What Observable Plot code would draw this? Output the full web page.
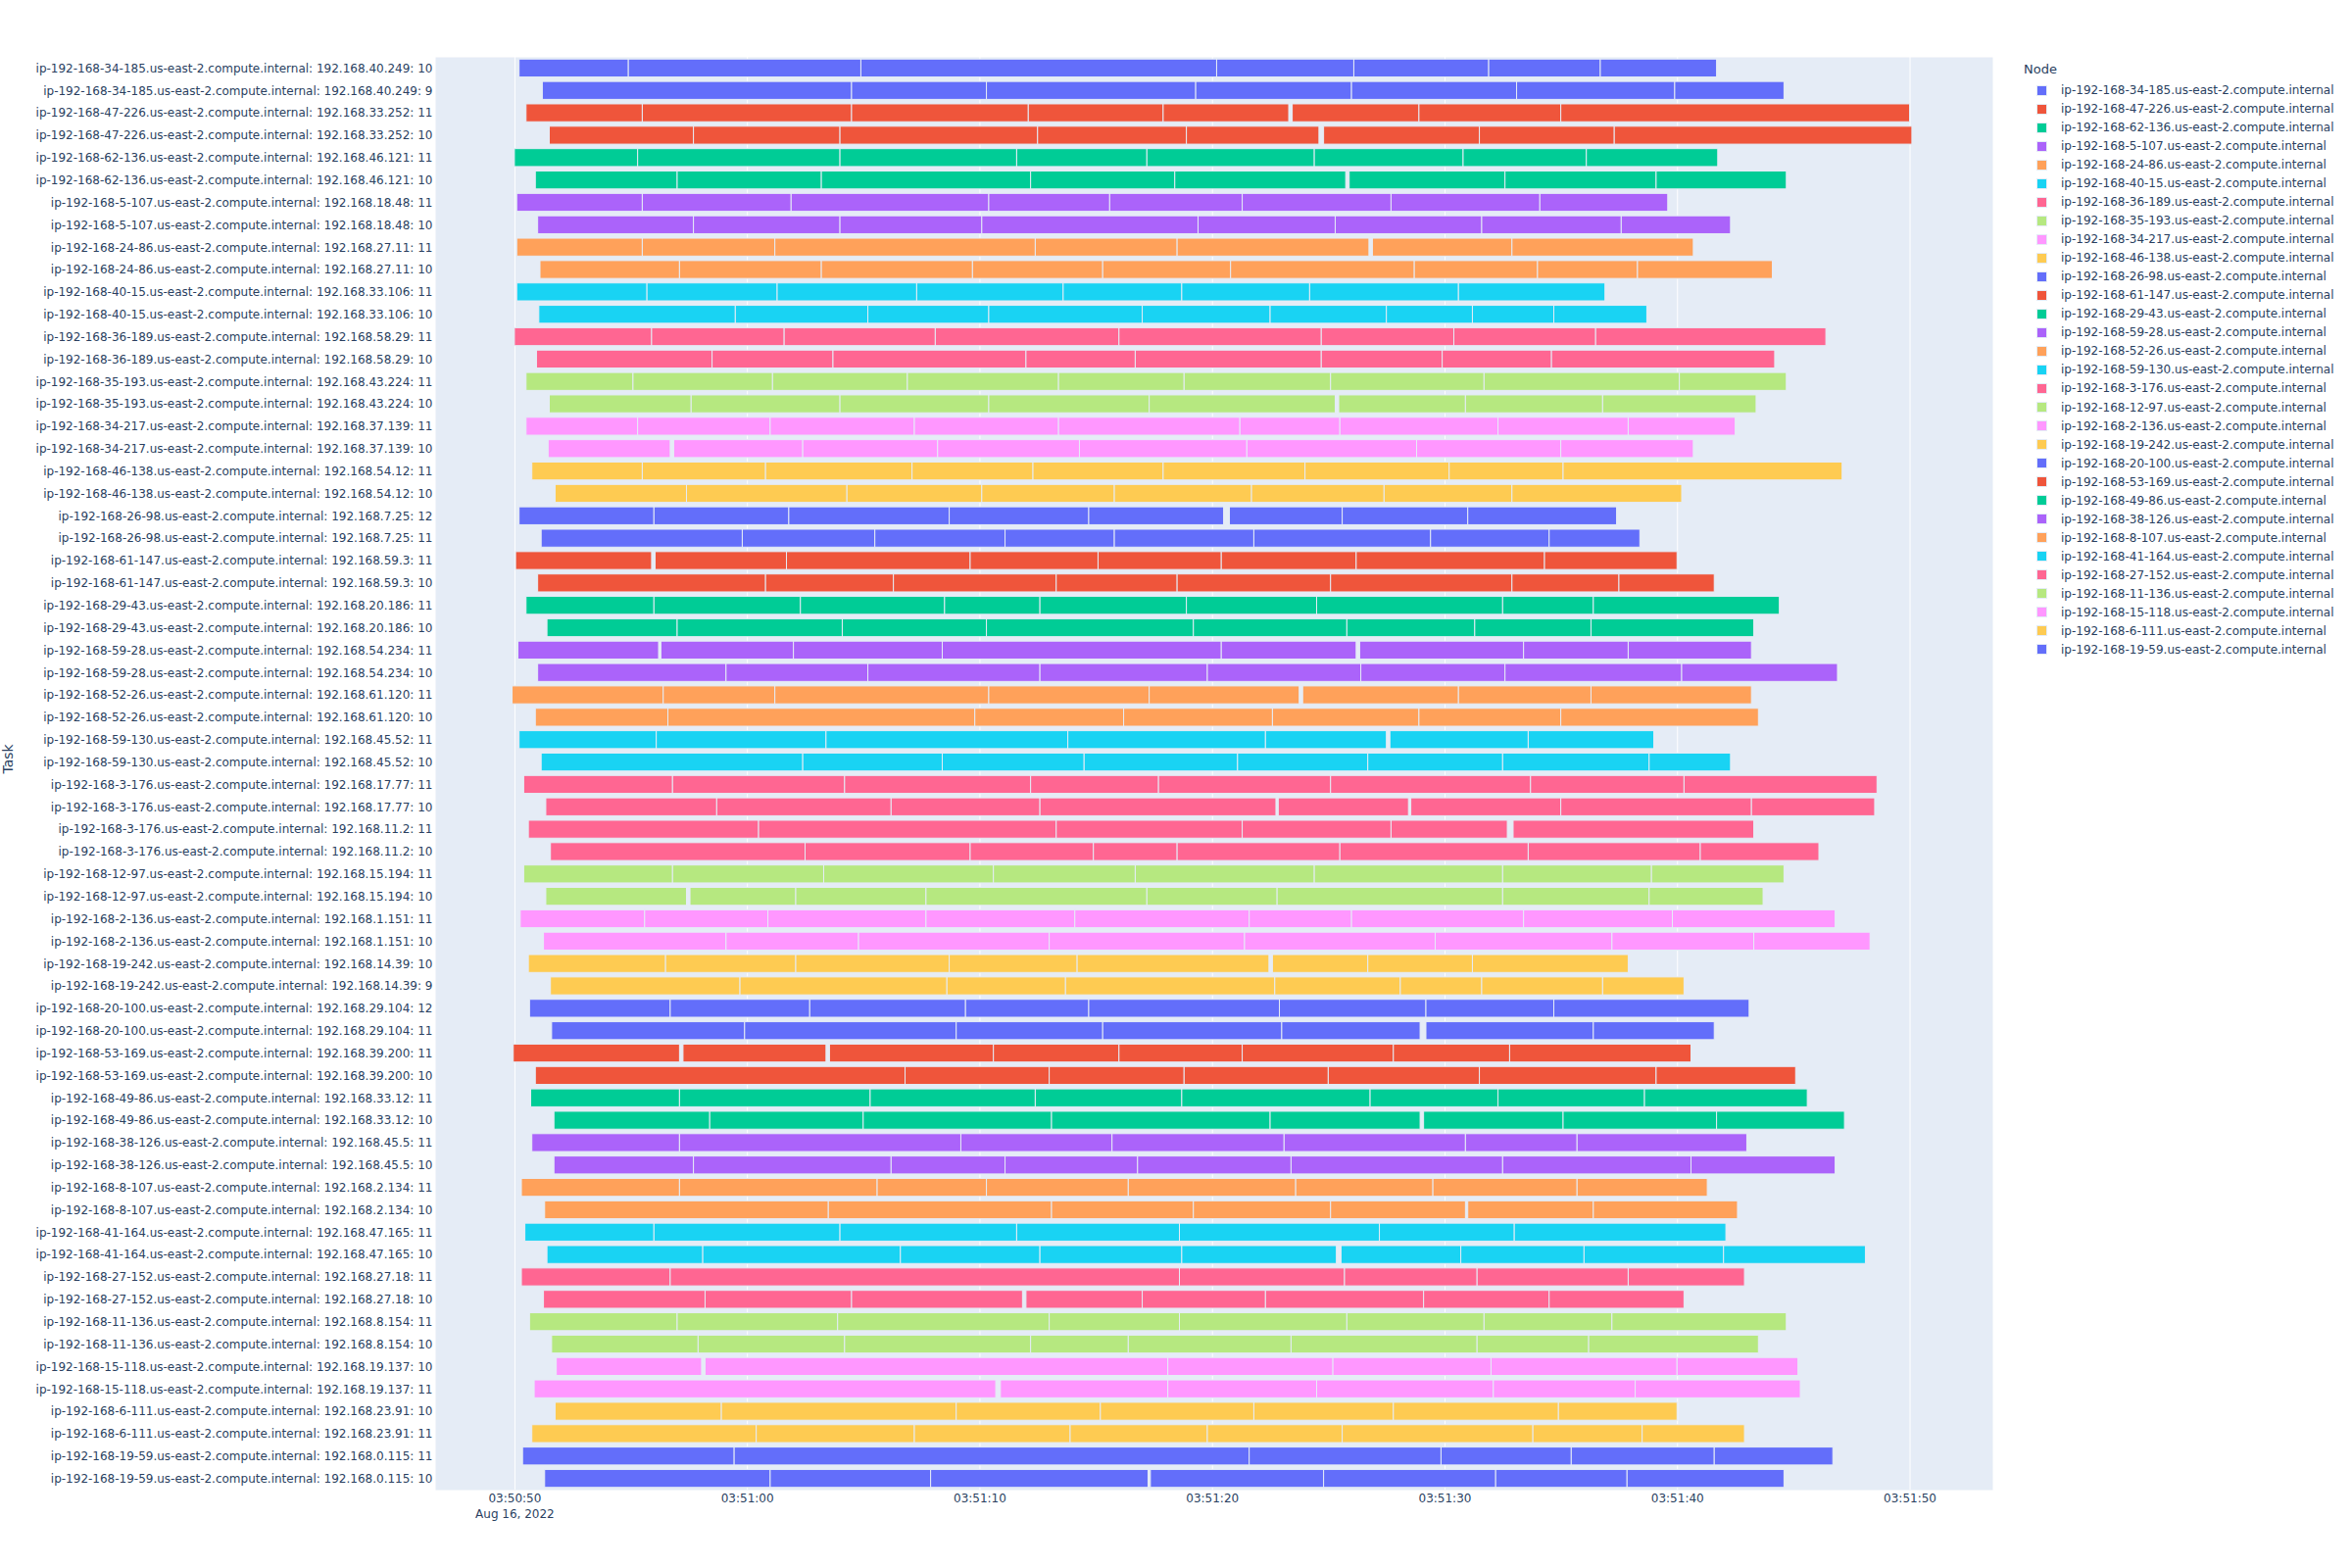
<!DOCTYPE html>
<html>
<head>
<meta charset="utf-8">
<script src="https://cdn.jsdelivr.net/npm/d3@7"></script>
<script src="https://cdn.jsdelivr.net/npm/@observablehq/plot@0.6"></script>
<style>
  html, body { margin: 0; padding: 0; background: #fff; }
  body { width: 2400px; height: 1600px; position: relative; overflow: hidden; font-family: "DejaVu Sans", sans-serif; color: #2a3f5f; }
  #chart { position: absolute; left: 0; top: 0; }
  .leg { position: absolute; font-size: 12px; white-space: nowrap; color: #2a3f5f; }
  .sw { position: absolute; width: 11px; height: 11px; box-sizing: border-box; border: 0.5px solid #E5ECF6; }
</style>
</head>
<body>
<div id="chart"></div>
<div id="legend"></div>
<script>
// Nodes in legend order
const nodes = ["34-185","47-226","62-136","5-107","24-86","40-15","36-189","35-193","34-217","46-138",
  "26-98","61-147","29-43","59-28","52-26","59-130","3-176","12-97","2-136","19-242",
  "20-100","53-169","49-86","38-126","8-107","41-164","27-152","11-136","15-118","6-111","19-59"];
const palette = ["#636efa","#EF553B","#00cc96","#ab63fa","#FFA15A","#19d3f3","#FF6692","#B6E880","#FF97FF","#FECB52"];

// Rows (top to bottom)
const rowNode = ["34-185","34-185","47-226","47-226","62-136","62-136","5-107","5-107","24-86","24-86",
  "40-15","40-15","36-189","36-189","35-193","35-193","34-217","34-217","46-138","46-138",
  "26-98","26-98","61-147","61-147","29-43","29-43","59-28","59-28","52-26","52-26",
  "59-130","59-130","3-176","3-176","3-176","3-176","12-97","12-97","2-136","2-136",
  "19-242","19-242","20-100","20-100","53-169","53-169","49-86","49-86","38-126","38-126",
  "8-107","8-107","41-164","41-164","27-152","27-152","11-136","11-136","15-118","15-118",
  "6-111","6-111","19-59","19-59"];
const rowIp = ["192.168.40.249","192.168.40.249","192.168.33.252","192.168.33.252","192.168.46.121","192.168.46.121",
  "192.168.18.48","192.168.18.48","192.168.27.11","192.168.27.11","192.168.33.106","192.168.33.106",
  "192.168.58.29","192.168.58.29","192.168.43.224","192.168.43.224","192.168.37.139","192.168.37.139",
  "192.168.54.12","192.168.54.12","192.168.7.25","192.168.7.25","192.168.59.3","192.168.59.3",
  "192.168.20.186","192.168.20.186","192.168.54.234","192.168.54.234","192.168.61.120","192.168.61.120",
  "192.168.45.52","192.168.45.52","192.168.17.77","192.168.17.77","192.168.11.2","192.168.11.2",
  "192.168.15.194","192.168.15.194","192.168.1.151","192.168.1.151","192.168.14.39","192.168.14.39",
  "192.168.29.104","192.168.29.104","192.168.39.200","192.168.39.200","192.168.33.12","192.168.33.12",
  "192.168.45.5","192.168.45.5","192.168.2.134","192.168.2.134","192.168.47.165","192.168.47.165",
  "192.168.27.18","192.168.27.18","192.168.8.154","192.168.8.154","192.168.19.137","192.168.19.137",
  "192.168.23.91","192.168.23.91","192.168.0.115","192.168.0.115"];
const rowSlot = [10,9,11,10,11,10,11,10,11,10,11,10,11,10,11,10,11,10,11,10,
  12,11,11,10,11,10,11,10,11,10,11,10,11,10,11,10,11,10,11,10,
  10,9,12,11,11,10,11,10,11,10,11,10,11,10,11,10,11,10,10,11,10,11,11,10];

// Task boundaries per row, seconds after 03:50:50 (a pair [end, start] marks an idle gap)
const rowTimes = [
  [0.2, 4.9, 14.9, 30.2, 36.1, 41.9, 46.7, 51.7],
  [1.2, 14.5, 20.3, 29.3, 36.0, 43.1, 49.9, 54.6],
  [0.5, 5.5, 14.5, 22.1, 27.9, [33.3, 33.45], 38.9, 45.0, 60.0],
  [1.5, 7.7, 14.0, 22.5, 28.9, [34.6, 34.8], 41.5, 47.3, 60.1],
  [0.0, 5.3, 14.0, 21.6, 27.2, 34.4, 40.8, 46.1, 51.75],
  [0.9, 7.0, 13.2, 22.2, 28.4, [35.75, 35.9], 42.6, 49.1, 54.7],
  [0.1, 5.5, 11.9, 20.4, 25.6, 31.3, 37.7, 44.1, 49.6],
  [1.0, 7.7, 14.0, 20.1, 29.4, 35.3, 41.6, 47.6, 52.3],
  [0.1, 5.5, 11.2, 22.4, 28.5, [36.75, 36.9], 42.9, 50.7],
  [1.1, 7.1, 13.2, 19.7, 25.3, 30.8, 38.7, 44.0, 48.3, 54.1],
  [0.1, 5.7, 11.3, 17.3, 23.6, 28.7, 34.2, 40.6, 46.9],
  [1.05, 9.5, 15.2, 20.4, 27.0, 32.5, 37.5, 41.2, 44.7, 48.7],
  [0.0, 5.9, 11.6, 18.1, 26.0, 34.7, 40.4, 46.5, 56.4],
  [0.95, 8.5, 13.7, 22.0, 26.7, 34.7, 39.9, 44.6, 54.2],
  [0.5, 5.1, 11.1, 16.9, 23.4, 28.8, 35.1, 41.7, 50.1, 54.7],
  [1.5, 7.6, 14.0, 20.4, 27.3, [35.3, 35.45], 40.9, 46.8, 53.4],
  [0.5, 5.3, 11.0, 17.2, 23.4, 31.2, 35.5, 42.3, 47.9, 52.5],
  [1.45, [6.7, 6.85], 12.4, 18.2, 24.3, 31.5, 38.8, 45.0, 50.7],
  [0.75, 5.5, 10.8, 17.1, 22.3, 27.9, 34.0, 40.2, 45.1, 57.1],
  [1.75, 7.4, 14.3, 20.1, 25.8, 31.7, 37.4, 42.9, 50.2],
  [0.2, 6.0, 11.8, 18.7, 24.7, [30.5, 30.75], 35.6, 41.0, 47.4],
  [1.15, 9.8, 15.5, 21.1, 25.8, 31.8, 39.4, 44.5, 48.4],
  [0.05, [5.9, 6.05], 11.7, 19.6, 25.1, 30.4, 36.2, 44.3, 50.0],
  [1.0, 10.8, 16.3, 23.3, 28.5, 35.1, 42.9, 47.5, 51.6],
  [0.5, 6.0, 12.3, 18.5, 22.6, 28.9, 34.5, 42.5, 46.4, 54.4],
  [1.4, 7.0, 14.1, 20.3, 29.2, 35.8, 41.3, 46.3, 53.3],
  [0.15, [6.2, 6.3], 12.0, 18.4, 30.4, [36.2, 36.35], 43.4, 47.9, 53.2],
  [1.0, 9.1, 15.2, 22.6, 29.8, 36.4, 42.6, 50.2, 56.9],
  [-0.1, 6.4, 11.2, 20.4, 27.3, [33.75, 33.9], 40.6, 46.3, 53.2],
  [0.9, 6.6, 19.8, 26.2, 32.6, 38.9, 45.0, 53.5],
  [0.2, 6.1, 13.4, 23.8, 32.3, [37.5, 37.65], 43.6, 49.0],
  [1.15, 12.4, 18.4, 24.5, 31.1, 36.7, 42.5, 48.8, 52.3],
  [0.4, 6.8, 14.2, 22.2, 27.7, 35.1, 43.7, 50.3, 58.6],
  [1.35, 8.7, 16.2, 22.6, [32.75, 32.85], [38.45, 38.55], 45.0, 53.2, 58.5],
  [0.6, 10.5, 23.3, 31.3, 37.7, [42.7, 42.95], 53.3],
  [1.55, 12.5, 19.6, 24.9, 28.5, 35.5, 43.6, 51.0, 56.1],
  [0.4, 6.8, 13.3, 20.6, 26.7, 34.4, 42.5, 48.9, 54.6],
  [1.35, [7.4, 7.55], 12.1, 17.7, 27.2, 32.8, 42.5, 48.8, 53.7],
  [0.25, 5.6, 10.9, 17.7, 24.1, 31.6, 36.0, 43.4, 49.8, 56.8],
  [1.25, 9.1, 14.8, 23.0, 31.4, 39.6, 47.2, 53.3, 58.3],
  [0.6, 6.5, 12.1, 18.7, 24.2, [32.45, 32.6], 36.7, 41.2, 47.9],
  [1.55, 9.7, 18.6, 23.7, 32.7, 38.1, 41.6, 46.8, 50.3],
  [0.65, 6.7, 12.7, 19.4, 24.7, 32.9, 39.2, 44.7, 53.1],
  [1.6, 9.9, 19.0, 25.3, 33.0, [38.95, 39.2], 46.4, 51.6],
  [-0.05, [7.1, 7.25], [13.4, 13.55], 20.6, 26.0, 31.3, 37.8, 42.8, 50.6],
  [0.9, 16.8, 23.0, 28.8, 35.0, 41.5, 49.1, 55.1],
  [0.7, 7.1, 15.3, 22.4, 28.7, 36.8, 42.3, 48.6, 55.6],
  [1.7, 8.4, 15.0, 23.1, 32.5, [38.95, 39.1], 45.1, 51.7, 57.2],
  [0.75, 7.1, 19.2, 25.7, 33.1, 40.9, 45.7, 53.0],
  [1.7, 7.7, 16.2, 21.1, 26.8, 33.4, 42.5, 50.6, 56.8],
  [0.3, 7.1, 15.6, 20.3, 26.4, 33.6, 39.5, 45.7, 51.3],
  [1.3, 13.5, 23.1, 29.2, 35.1, [40.9, 41.0], 46.4, 52.6],
  [0.45, 6.0, 14.0, 21.6, 28.6, 37.2, 43.0, 52.1],
  [1.4, 8.1, 16.6, 22.6, 28.7, [35.35, 35.55], 40.7, 46.0, 52.0, 58.1],
  [0.3, 6.7, 28.6, 35.7, 41.4, 47.9, 52.9],
  [1.25, 8.2, 14.5, [21.85, 22.0], 27.0, 32.3, 39.1, 44.5, 50.3],
  [0.65, 7.0, 13.9, 23.0, 28.6, 35.8, 41.7, 47.2, 54.7],
  [1.6, 7.9, 14.2, 22.2, 26.4, 33.4, 41.4, 46.2, 53.5],
  [1.8, [8.05, 8.2], 28.1, 35.2, 42.0, 50.0, 55.2],
  [0.85, [20.7, 20.9], 28.1, 34.5, 42.1, 48.2, 55.3],
  [1.75, 8.9, 19.0, 25.2, 31.8, 37.8, 44.9, 50.0],
  [0.75, 10.4, 17.2, 23.9, 29.8, 35.6, 43.8, 48.5, 52.9],
  [0.35, 9.45, 31.6, 39.85, 45.45, 51.6, 56.7],
  [1.3, 11.0, 17.9, [27.25, 27.35], 34.8, 42.2, 47.85, 54.6]
];

const tickSeconds = [0, 10, 20, 30, 40, 50, 60];
const xDomainSeconds = [-3.41, 63.56];
const base = new Date(2022, 7, 16, 3, 50, 50);
const toDate = s => new Date(base.getTime() + s * 1000);
const suffix = ".us-east-2.compute.internal";

const taskLabels = rowNode.map((n, i) => `ip-192-168-${n}${suffix}: ${rowIp[i]}: ${rowSlot[i]}`);
const nodeNames = nodes.map(n => `ip-192-168-${n}${suffix}`);

const segments = [];
rowTimes.forEach((times, r) => {
  let start = times[0];
  for (let i = 1; i < times.length; i++) {
    const v = times[i];
    if (Array.isArray(v)) {
      segments.push({task: taskLabels[r], node: `ip-192-168-${rowNode[r]}${suffix}`, start: toDate(start), end: toDate(v[0])});
      start = v[1];
    } else {
      segments.push({task: taskLabels[r], node: `ip-192-168-${rowNode[r]}${suffix}`, start: toDate(start), end: toDate(v)});
      start = v;
    }
  }
});

const ticks = tickSeconds.map(toDate);
const fmt = d3.timeFormat("%H:%M:%S");
const textColor = "#2a3f5f";

const chart = Plot.plot({
  width: 2400,
  height: 1600,
  marginLeft: 444,
  marginRight: 367,
  marginTop: 58,
  marginBottom: 80,
  style: {fontFamily: "DejaVu Sans, sans-serif", fontSize: "12px", color: textColor, background: "white"},
  x: {type: "time", domain: xDomainSeconds.map(toDate)},
  y: {domain: taskLabels, paddingInner: 0.2, paddingOuter: 0.1},
  color: {domain: nodeNames, range: nodeNames.map((_, i) => palette[i % palette.length])},
  marks: [
    Plot.frame({fill: "#E5ECF6", stroke: null}),
    Plot.gridX(ticks, {stroke: "white", strokeOpacity: 1, strokeWidth: 1}),
    Plot.barX(segments, {x1: "start", x2: "end", y: "task", fill: "node", stroke: "#E5ECF6", strokeWidth: 1}),
    Plot.axisX(ticks, {tickSize: 0, tickPadding: 4, tickFormat: fmt, label: null, fill: textColor, fontSize: 12}),
    Plot.axisY({tickSize: 0, tickPadding: 3, label: null, fill: textColor, fontSize: 12}),
    Plot.text([ticks[0]], {x: d => d, frameAnchor: "bottom", dy: 20, lineAnchor: "top", text: d => d3.timeFormat("%b %-d, %Y")(d), fill: textColor, fontSize: 12}),
    Plot.text(["Task"], {frameAnchor: "left", dx: -436, rotate: -90, text: d => d, fill: textColor, fontSize: 14})
  ]
});
document.getElementById("chart").appendChild(chart);

// Legend built from the chart's color scale
const color = chart.scale("color");
const legend = document.getElementById("legend");
const title = document.createElement("div");
title.className = "leg";
title.style.left = "2065px";
title.style.top = "63px";
title.style.fontSize = "13px";
title.textContent = "Node";
legend.appendChild(title);
nodeNames.forEach((name, i) => {
  const cy = 92 + i * 19.03;
  const sw = document.createElement("div");
  sw.className = "sw";
  sw.style.left = (2083 - 5.5) + "px";
  sw.style.top = (cy - 5.5) + "px";
  sw.style.background = color.apply(name);
  legend.appendChild(sw);
  const t = document.createElement("div");
  t.className = "leg";
  t.style.left = "2103px";
  t.style.top = (cy - 8) + "px";
  t.style.lineHeight = "16px";
  t.textContent = name;
  legend.appendChild(t);
});
</script>
</body>
</html>
